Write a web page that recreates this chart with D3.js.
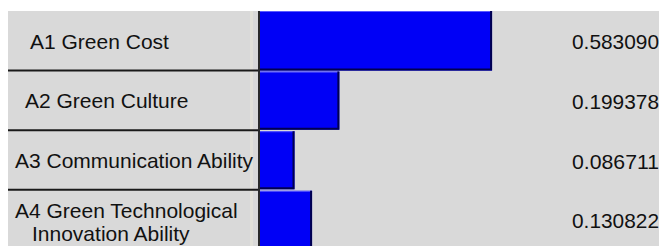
<!DOCTYPE html>
<html>
<head>
<meta charset="utf-8">
<script src="https://cdn.jsdelivr.net/npm/d3@7"></script>
<style>
html,body{margin:0;padding:0;background:#fff;overflow:hidden;}
svg{display:block;}
text{font-family:"Liberation Sans",Arial,sans-serif;fill:#111;}
</style>
</head>
<body>
<svg id="chart" width="659" height="246"></svg>
<script>
// ---- data ----
const categories = ["A1", "A2", "A3", "A4"];
const labels = [["A1 Green Cost"], ["A2 Green Culture"], ["A3 Communication Ability"], ["A4 Green Technological", "Innovation Ability"]];
const values = [0.583090, 0.199378, 0.086711, 0.130822];
const valueLabels = ["0.583090", "0.199378", "0.086711", "0.130822"];

// ---- layout (not data) ----
const W = 659, H = 246;
const panelLeft = 8, panelTop = 11;
const divX = 259;           // vertical divider between label column and bars
const barLeft = 260;
const labelX = [[30], [25], [15], [15, 32]];
const valueX = 572;

const svg = d3.select("#chart");

// background
svg.append("rect").attr("width", W).attr("height", H).attr("fill", "#ffffff");
svg.append("rect").attr("x", panelLeft).attr("y", panelTop)
  .attr("width", W - panelLeft).attr("height", H - panelTop).attr("fill", "#d9d9d9");

const y = d3.scaleBand().domain(categories).range([panelTop, panelTop + 4 * 59.6]).padding(0);
const x = d3.scaleLinear().domain([0, 1]).range([barLeft, barLeft + 398]);

// faint light column line inside the label column
svg.append("rect").attr("x", 250).attr("y", panelTop).attr("width", 3).attr("height", H - panelTop)
  .attr("fill", "#e2e1da");

// bars
const g = svg.append("g");
categories.forEach((c, i) => {
  const y0 = y(c) + (i === 0 ? 0 : 1);
  const h = y.bandwidth() - (i === 0 ? 0 : 1.5);
  const x1 = x(values[i]);
  g.append("rect").attr("x", x(0)).attr("y", y0).attr("width", x1 - x(0)).attr("height", h)
    .attr("fill", "#0000f6");
  // light top edge
  g.append("line").attr("x1", x(0)).attr("x2", x1).attr("y1", y0 + 0.5).attr("y2", y0 + 0.5)
    .attr("stroke", "#5a5aff").attr("stroke-width", 1);
  // dark right + bottom edges
  g.append("path")
    .attr("d", `M${x1 - 1},${y0} L${x1 - 1},${y0 + h - 1} L${x(0)},${y0 + h - 1}`)
    .attr("fill", "none").attr("stroke", "#000050").attr("stroke-width", 2);
});

// row separators in label column
categories.slice(1).forEach(c => {
  svg.append("line").attr("x1", panelLeft).attr("x2", divX).attr("y1", y(c)).attr("y2", y(c))
    .attr("stroke", "#1a1a1a").attr("stroke-width", 2);
});

// vertical divider
svg.append("line").attr("x1", divX).attr("x2", divX).attr("y1", panelTop).attr("y2", H)
  .attr("stroke", "#2a2a2a").attr("stroke-width", 2);

// labels
categories.forEach((c, i) => {
  const lines = labels[i];
  const cy = y(c) + y.bandwidth() / 2;
  const t = svg.append("text").attr("font-size", 21);
  if (lines.length === 1) {
    t.append("tspan").attr("x", labelX[i][0]).attr("y", cy + 8).text(lines[0]);
  } else {
    t.append("tspan").attr("x", labelX[i][0]).attr("y", cy - 1.5).text(lines[0]);
    t.append("tspan").attr("x", labelX[i][1]).attr("y", cy + 21.5).text(lines[1]);
  }
});

// values
categories.forEach((c, i) => {
  svg.append("text").attr("x", valueX).attr("y", y(c) + y.bandwidth() / 2 + 8.5)
    .attr("font-size", 21).attr("textLength", 87).attr("lengthAdjust", "spacingAndGlyphs")
    .text(valueLabels[i]);
});
</script>
</body>
</html>
